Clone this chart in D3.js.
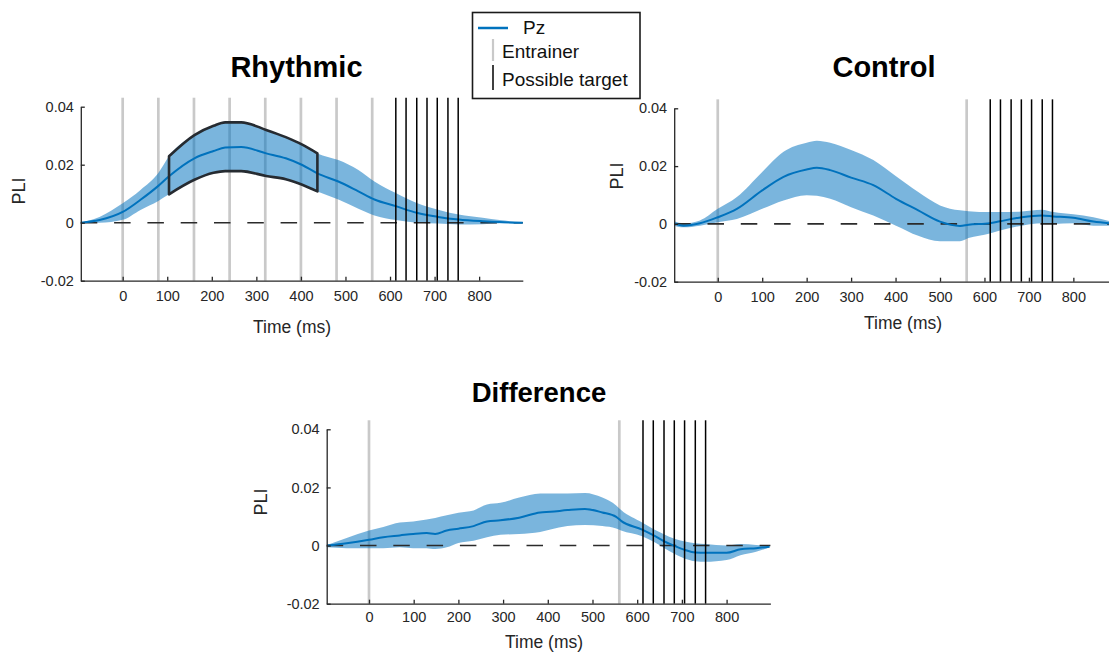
<!DOCTYPE html>
<html>
<head>
<meta charset="utf-8">
<script src="https://cdn.jsdelivr.net/npm/d3@7"></script>
<style>
  body { margin: 0; background: #fff; }
  svg text { font-family: "Liberation Sans", Arial, Helvetica, sans-serif; fill: #262626; }
  .axis path, .axis line { stroke: #262626; stroke-width: 1.3; }
  .axis text { font-size: 14.5px; }
</style>
</head>
<body>
<div id="chart"></div>
<script>
// values (time in ms, PLI)
var rhythmicTime  = [-94, -52, 0, 40, 80, 104, 161, 204, 230, 266, 322, 366, 403, 437, 484, 529, 565, 613, 660, 708, 754, 808, 846, 898];
var rhythmicMean  = [0, 0.0009, 0.0037, 0.0079, 0.0127, 0.016, 0.0222, 0.0247, 0.0259, 0.0261, 0.0239, 0.0222, 0.0199, 0.017, 0.0142, 0.0108, 0.008, 0.0057, 0.0034, 0.002, 0.0011, 0.0005, 0.0002, 0];
var rhythmicUpper = [0, 0.002, 0.0067, 0.0113, 0.0171, 0.0229, 0.0302, 0.0334, 0.0346, 0.0346, 0.032, 0.0295, 0.0269, 0.0239, 0.0216, 0.0182, 0.0142, 0.0102, 0.0068, 0.0045, 0.0028, 0.0017, 0.0009, 0.0002];
var rhythmicLower = [0, 0, 0.001, 0.0044, 0.0075, 0.0098, 0.0148, 0.0172, 0.0178, 0.0178, 0.0161, 0.015, 0.0131, 0.0108, 0.008, 0.0048, 0.0025, 0.0009, 0, -0.0003, -0.0006, -0.0005, -0.0002, 0];
var clusterWindow = [104, 437];

var controlTime  = [-98, -77, -40, 0, 43, 100, 148, 200, 223, 253, 300, 350, 401, 451, 500, 545, 564, 612, 635, 684, 729, 755, 800, 845, 900];
var controlMean  = [0.0002, -0.0006, 0.0002, 0.0023, 0.0052, 0.0116, 0.0163, 0.0188, 0.0194, 0.0186, 0.016, 0.0134, 0.0087, 0.0047, 0.0008, -0.0007, -0.0003, 0.0002, 0.0009, 0.0023, 0.0029, 0.0026, 0.0021, 0.0008, 0];
var controlUpper = [0.0009, 0.0002, 0.0012, 0.0052, 0.0093, 0.018, 0.025, 0.0281, 0.0288, 0.0281, 0.0256, 0.0221, 0.0165, 0.011, 0.0064, 0.0047, 0.0044, 0.0041, 0.0041, 0.0043, 0.0049, 0.0041, 0.0033, 0.0023, 0.0002];
var controlLower = [-0.0006, -0.0012, -0.0006, 0.0006, 0.0017, 0.0052, 0.0081, 0.0099, 0.0097, 0.0087, 0.0058, 0.0029, -0.0006, -0.0041, -0.006, -0.006, -0.0049, -0.0033, -0.0023, -0.0006, 0.0002, 0, 0.0002, -0.0006, -0.0006];

var differenceTime  = [-94, -50, 0, 32, 69, 99, 129, 148, 174, 200, 234, 264, 294, 336, 383, 406, 444, 483, 522, 553, 564, 611, 638, 661, 682, 707, 730, 753, 800, 831, 866, 896];
var differenceMean  = [0, 0.0008, 0.002, 0.0029, 0.0035, 0.004, 0.0043, 0.004, 0.0052, 0.0058, 0.0067, 0.0083, 0.0087, 0.0096, 0.0114, 0.0116, 0.0122, 0.0126, 0.0114, 0.0099, 0.0085, 0.0055, 0.0034, 0.0014, 0, -0.0015, -0.0024, -0.0025, -0.0025, -0.0013, -0.0009, -0.0004];
var differenceUpper = [0.0002, 0.0026, 0.0052, 0.0064, 0.0079, 0.0083, 0.009, 0.0095, 0.0104, 0.0113, 0.0121, 0.0141, 0.0147, 0.0165, 0.0179, 0.0179, 0.0179, 0.0181, 0.0165, 0.0138, 0.0122, 0.0079, 0.0055, 0.0038, 0.0024, 0.0014, 0.0008, 0.0005, 0, 0.0005, 0.0002, -0.0002];
var differenceLower = [-0.0006, -0.0009, -0.0009, -0.0009, -0.0006, -0.0009, -0.0009, -0.0012, -0.0006, 0.0009, 0.0017, 0.0029, 0.0037, 0.004, 0.0047, 0.0055, 0.0067, 0.0071, 0.0067, 0.0059, 0.0052, 0.0032, 0.0012, -0.0009, -0.0027, -0.0045, -0.0054, -0.0056, -0.005, -0.0033, -0.0021, -0.0007];

var entrainersRhythmic = [0, 80, 160, 240, 320, 400, 480, 560];
var entrainersSingle = [0, 560];
var targets = [613, 636, 660, 683, 706, 730, 753];

var xTicks = [0, 100, 200, 300, 400, 500, 600, 700, 800];
var yTicks = [-0.02, 0, 0.02, 0.04];
var yTickLabels = ["-0.02", "0", "0.02", "0.04"];
var legendLabels = ["Pz", "Entrainer", "Possible target"];

var W = 1109, H = 655;
var blue = "#0072BD";

var svg = d3.select("#chart").append("svg")
   .attr("width", W)
   .attr("height", H);

function zip(time, mean, upper, lower) {
   return time.map(function(t, i) {
      return {t: t, m: mean[i], u: upper[i], l: lower[i]};
   });
}

function drawPanel(p) {
   var x = d3.scaleLinear().domain(p.xDomain).range(p.xRange);
   var y = d3.scaleLinear().domain([-0.02, 0.04]).range(p.yRange);
   var g = svg.append("g");
   var data = zip(p.time, p.mean, p.upper, p.lower);

   //entrainer lines (gray)
   g.selectAll(".ent")
      .data(p.entrainers)
      .enter()
      .append("line")
      .attr("x1", function(d) { return x(d); })
      .attr("x2", function(d) { return x(d); })
      .attr("y1", y(-0.02))
      .attr("y2", y(0.0431))
      .attr("stroke", "#c9c9c9")
      .attr("stroke-width", 2.7);

   //confidence band
   var area = d3.area()
      .x(function(d) { return x(d.t); })
      .y0(function(d) { return y(d.l); })
      .y1(function(d) { return y(d.u); })
      .curve(d3.curveMonotoneX);

   g.append("path")
      .datum(data)
      .attr("d", area)
      .attr("fill", blue)
      .attr("fill-opacity", 0.52);

   //zero line
   g.append("line")
      .attr("x1", p.xRange[0])
      .attr("x2", x(p.xDomain[1]))
      .attr("y1", y(0))
      .attr("y2", y(0))
      .attr("stroke", "#2b2b2b")
      .attr("stroke-width", 1.6)
      .attr("stroke-dasharray", "16.5,16.8");

   //mean
   var line = d3.line()
      .x(function(d) { return x(d.t); })
      .y(function(d) { return y(d.m); })
      .curve(d3.curveMonotoneX);

   g.append("path")
      .datum(data)
      .attr("d", line)
      .attr("fill", "none")
      .attr("stroke", blue)
      .attr("stroke-width", 2);

   //significant cluster outline
   if (p.cluster) {
      var sub = data.filter(function(d) { return d.t >= p.cluster[0] && d.t <= p.cluster[1]; });
      g.append("path")
         .datum(sub)
         .attr("d", area)
         .attr("fill", "none")
         .attr("stroke", "#262b31")
         .attr("stroke-width", 2.6)
         .attr("stroke-linejoin", "round");
   }

   //possible targets (black)
   g.selectAll(".tgt")
      .data(targets)
      .enter()
      .append("line")
      .attr("x1", function(d) { return x(d); })
      .attr("x2", function(d) { return x(d); })
      .attr("y1", y(-0.02))
      .attr("y2", y(0.0431))
      .attr("stroke", "#000")
      .attr("stroke-width", 1.5);

   //axes
   var xAxis = d3.axisBottom(x)
      .tickValues(xTicks)
      .tickFormat(d3.format("d"))
      .tickSizeInner(-4)
      .tickSizeOuter(0)
      .tickPadding(p.xPad);

   var yAxis = d3.axisLeft(y)
      .tickValues(yTicks)
      .tickFormat(function(d, i) { return yTickLabels[i]; })
      .tickSizeInner(-4)
      .tickSizeOuter(0)
      .tickPadding(7);

   g.append("g")
      .attr("class", "axis")
      .attr("transform", "translate(0," + p.yRange[0] + ")")
      .call(xAxis);

   g.append("g")
      .attr("class", "axis")
      .attr("transform", "translate(" + p.xRange[0] + ",0)")
      .call(yAxis);

   g.selectAll(".axis .domain").attr("stroke-width", 1.7);
   g.selectAll(".axis text").attr("fill", "#262626");

   //labels
   g.append("text")
      .attr("x", p.titlePos[0])
      .attr("y", p.titlePos[1])
      .attr("text-anchor", "middle")
      .style("font-size", p.titleSize + "px")
      .style("font-weight", "bold")
      .style("fill", "#000")
      .text(p.title);

   g.append("text")
      .attr("x", p.xLabelPos[0])
      .attr("y", p.xLabelPos[1])
      .attr("text-anchor", "middle")
      .style("font-size", "17.5px")
      .text("Time (ms)");

   g.append("text")
      .attr("transform", "translate(" + p.yLabelPos[0] + "," + p.yLabelPos[1] + ") rotate(-90)")
      .attr("text-anchor", "middle")
      .attr("dy", "0.35em")
      .style("font-size", "18px")
      .text("PLI");
}

drawPanel({
   title: "Rhythmic", titlePos: [296.5, 77], titleSize: 29,
   time: rhythmicTime, mean: rhythmicMean, upper: rhythmicUpper, lower: rhythmicLower,
   entrainers: entrainersRhythmic, cluster: clusterWindow,
   xDomain: [-94, 898], xRange: [80.8, 522.8], yRange: [280.7, 106.7],
   xPad: 10, xLabelPos: [292, 333], yLabelPos: [18.5, 191]
});

drawPanel({
   title: "Control", titlePos: [884, 77], titleSize: 29,
   time: controlTime, mean: controlMean, upper: controlUpper, lower: controlLower,
   entrainers: entrainersSingle, cluster: null,
   xDomain: [-98, 900], xRange: [674.2, 1117.8], yRange: [281.7, 108.3],
   xPad: 10, xLabelPos: [903, 329], yLabelPos: [617, 176]
});

drawPanel({
   title: "Difference", titlePos: [539, 401.5], titleSize: 27.5,
   time: differenceTime, mean: differenceMean, upper: differenceUpper, lower: differenceLower,
   entrainers: entrainersSingle, cluster: null,
   xDomain: [-94.6, 898], xRange: [326.7, 770.4], yRange: [603.7, 429.3],
   xPad: 8, xLabelPos: [544, 648], yLabelPos: [261, 502]
});

//legend
var lg = svg.append("g");
lg.append("rect")
   .attr("x", 472.5).attr("y", 12.5)
   .attr("width", 167.5).attr("height", 86)
   .attr("fill", "#fff")
   .attr("stroke", "#1a1a1a")
   .attr("stroke-width", 1.6);

lg.append("line")
   .attr("x1", 478).attr("x2", 508)
   .attr("y1", 28).attr("y2", 28)
   .attr("stroke", blue).attr("stroke-width", 2.5);
lg.append("line")
   .attr("x1", 493).attr("x2", 493)
   .attr("y1", 39).attr("y2", 61)
   .attr("stroke", "#c9c9c9").attr("stroke-width", 2.2);
lg.append("line")
   .attr("x1", 493).attr("x2", 493)
   .attr("y1", 65).attr("y2", 90)
   .attr("stroke", "#000").attr("stroke-width", 1.5);

lg.selectAll("text")
   .data(legendLabels)
   .enter()
   .append("text")
   .attr("x", function(d, i) { return i == 0 ? 523 : 502; })
   .attr("y", function(d, i) { return [34, 58, 86][i]; })
   .style("font-size", "19px")
   .style("fill", "#111")
   .text(function(d) { return d; });
</script>
</body>
</html>
